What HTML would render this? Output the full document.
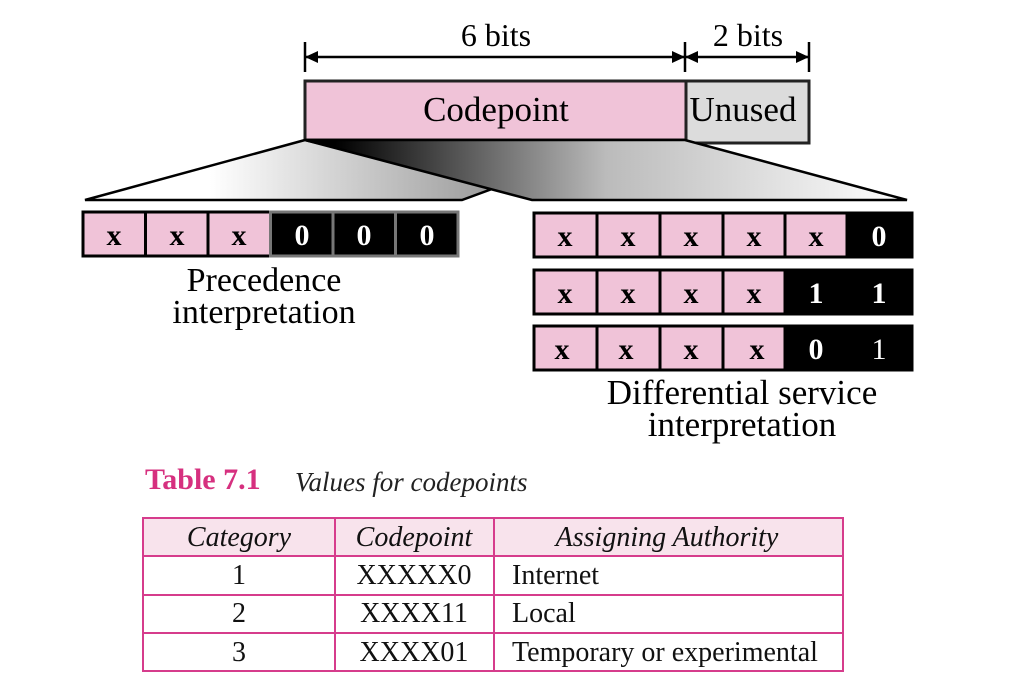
<!DOCTYPE html>
<html><head><style>
body{margin:0;width:1012px;height:696px;background:#fff;overflow:hidden;position:relative;font-family:"Liberation Serif",serif}
.t{position:absolute;white-space:nowrap}
</style></head><body>
<svg width="1012" height="470" style="position:absolute;left:0;top:0" font-family="Liberation Serif, serif">
<defs>
<linearGradient id="gl" x1="0" x2="1" y1="0" y2="0"><stop offset="0.3" stop-color="#fff"/><stop offset="1" stop-color="#999"/></linearGradient>
<linearGradient id="gr" x1="0" x2="1" y1="0" y2="0"><stop offset="0.05" stop-color="#000"/><stop offset="0.5" stop-color="#bbb"/><stop offset="1" stop-color="#fff"/></linearGradient>
</defs>
<g stroke="#000" stroke-width="2.5" fill="#000">
<line x1="305" y1="42" x2="305" y2="72"/><line x1="685" y1="42" x2="685" y2="72"/><line x1="809" y1="42" x2="809" y2="72"/>
<line x1="305" y1="57" x2="685" y2="57"/><line x1="685" y1="57" x2="809" y2="57"/>
<polygon points="305,57 318,51 318,63" stroke="none"/><polygon points="685,57 672,51 672,63" stroke="none"/>
<polygon points="685,57 698,51 698,63" stroke="none"/><polygon points="809,57 796,51 796,63" stroke="none"/>
</g>
<text x="496" y="46" font-size="32" text-anchor="middle">6 bits</text>
<text x="748" y="46" font-size="32" text-anchor="middle">2 bits</text>
<rect x="686" y="81" width="123" height="62" fill="#dcdcdc" stroke="#222" stroke-width="3"/>
<rect x="305" y="81" width="381" height="59" fill="#f0c3d8" stroke="#222" stroke-width="3"/>
<text x="496" y="121" font-size="35" text-anchor="middle">Codepoint</text>
<text x="743" y="121" font-size="35" text-anchor="middle">Unused</text>
<polygon points="305,140 85,200 462,200 500,186" fill="url(#gl)" stroke="#000" stroke-width="2.5"/>
<polygon points="305,140 685,140 907,200 532,200" fill="url(#gr)" stroke="#000" stroke-width="2.5"/>
<g font-size="30" font-weight="bold" text-anchor="middle">
<g stroke="#000" stroke-width="3">
<rect x="83" y="212" width="62.5" height="44" fill="#f0c3d8"/><rect x="145.5" y="212" width="62.5" height="44" fill="#f0c3d8"/><rect x="208" y="212" width="62.5" height="44" fill="#f0c3d8"/>
</g>
<g stroke="#777" stroke-width="3">
<rect x="270.5" y="212" width="62.5" height="44" fill="#000"/><rect x="333" y="212" width="62.5" height="44" fill="#000"/><rect x="395.5" y="212" width="62.5" height="44" fill="#000"/>
</g>
<text x="114" y="245">x</text><text x="177" y="245">x</text><text x="239" y="245">x</text>
<text x="302" y="245" fill="#fff">0</text><text x="364" y="245" fill="#fff">0</text><text x="427" y="245" fill="#fff">0</text>
<g stroke="#000" stroke-width="3" fill="#f0c3d8">
<rect x="534" y="213" width="63" height="44"/><rect x="597" y="213" width="63" height="44"/><rect x="660" y="213" width="63" height="44"/><rect x="723" y="213" width="62" height="44"/><rect x="785" y="213" width="62" height="44"/><rect x="847" y="213" width="65" height="44" fill="#000"/>
<rect x="534" y="270" width="63" height="44"/><rect x="597" y="270" width="63" height="44"/><rect x="660" y="270" width="63" height="44"/><rect x="723" y="270" width="62" height="44"/><rect x="785" y="270" width="127" height="44" fill="#000"/>
<rect x="534" y="326" width="63" height="44"/><rect x="597" y="326" width="63" height="44"/><rect x="660" y="326" width="63" height="44"/><rect x="723" y="326" width="62" height="44"/><rect x="785" y="326" width="127" height="44" fill="#000"/>
</g>
<text x="565" y="246">x</text><text x="628" y="246">x</text><text x="691" y="246">x</text><text x="754" y="246">x</text><text x="816" y="246">x</text><text x="879" y="246" fill="#fff">0</text>
<text x="565" y="303">x</text><text x="628" y="303">x</text><text x="691" y="303">x</text><text x="754" y="303">x</text><text x="816" y="303" fill="#fff">1</text><text x="879" y="303" fill="#fff">1</text>
<text x="562" y="359">x</text><text x="626" y="359">x</text><text x="691" y="359">x</text><text x="757" y="359">x</text><text x="816" y="359" fill="#fff">0</text><text x="879" y="359" fill="#fff" font-weight="normal">1</text>
</g>
<text x="264" y="291" font-size="34" text-anchor="middle">Precedence</text>
<text x="264" y="323" font-size="34" text-anchor="middle">interpretation</text>
<text x="742" y="404" font-size="35" text-anchor="middle">Differential service</text>
<text x="742" y="436" font-size="35" text-anchor="middle">interpretation</text>
</svg>
<div class="t" style="left:145px;top:463px;font-size:30px;font-weight:bold;color:#d6307f">Table 7.1</div>
<div class="t" style="left:295px;top:467px;font-size:27px;font-style:italic;color:#222">Values for codepoints</div>
<svg width="1012" height="200" style="position:absolute;left:0;top:500px" font-family="Liberation Serif, serif" font-size="28" fill="#111">
<rect x="143" y="18" width="700" height="38" fill="#f8e3ec"/>
<g stroke="#d63c8c" stroke-width="2" fill="none">
<rect x="143" y="18" width="700" height="153"/>
<line x1="143" y1="56" x2="843" y2="56"/><line x1="143" y1="95" x2="843" y2="95"/><line x1="143" y1="133" x2="843" y2="133"/>
<line x1="335" y1="18" x2="335" y2="171"/><line x1="494" y1="18" x2="494" y2="171"/>
</g>
<g font-style="italic" text-anchor="middle">
<text x="239" y="46">Category</text><text x="414" y="46">Codepoint</text><text x="667" y="46">Assigning Authority</text>
</g>
<g text-anchor="middle"><text x="239" y="84">1</text><text x="239" y="122">2</text><text x="239" y="161">3</text>
<text x="414" y="84">XXXXX0</text><text x="414" y="122">XXXX11</text><text x="414" y="161">XXXX01</text></g>
<text x="512" y="84">Internet</text><text x="512" y="122">Local</text><text x="512" y="161">Temporary or experimental</text>
</svg>
</body></html>
